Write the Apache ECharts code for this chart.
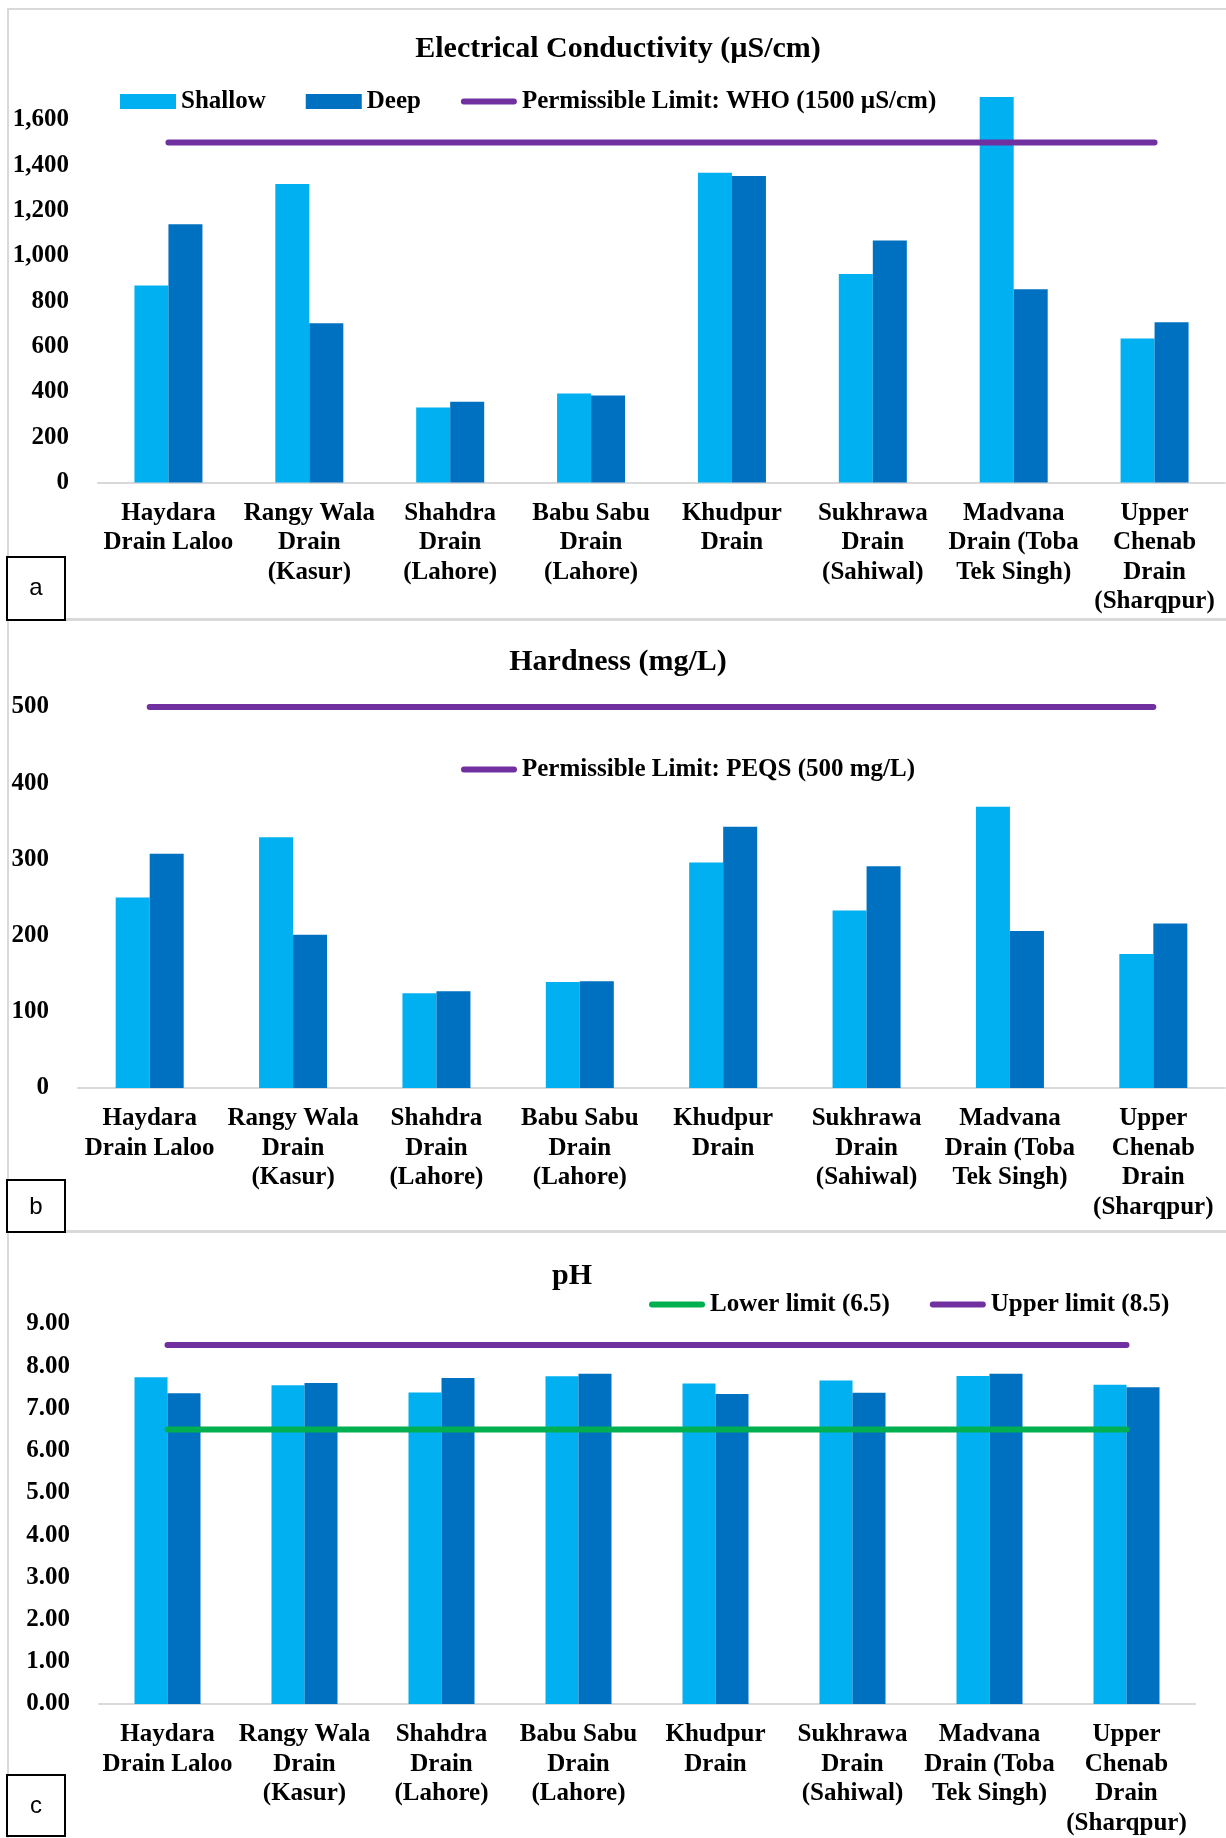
<!DOCTYPE html>
<html>
<head>
<meta charset="utf-8">
<script src="https://cdn.jsdelivr.net/npm/echarts@6/dist/echarts.min.js"></script>
<style>
html,body{margin:0;padding:0;background:#fff;}
#chart{width:1226px;height:1838px;}
</style>
</head>
<body>
<div id="chart"></div>
<script>
var categories = [
  'Haydara\nDrain Laloo',
  'Rangy Wala\nDrain\n(Kasur)',
  'Shahdra\nDrain\n(Lahore)',
  'Babu Sabu\nDrain\n(Lahore)',
  'Khudpur\nDrain',
  'Sukhrawa\nDrain\n(Sahiwal)',
  'Madvana\nDrain (Toba\nTek Singh)',
  'Upper\nChenab\nDrain\n(Sharqpur)'
];
var ecShallow = [869, 1317, 331, 393, 1366, 920, 1701, 635];
var ecDeep    = [1139, 703, 356, 384, 1352, 1068, 853, 707];
var ecWHO     = [1500, 1500, 1500, 1500, 1500, 1500, 1500, 1500];

var hardShallow = [250, 329, 124.5, 139, 296, 233, 369, 176];
var hardDeep    = [307.5, 201, 127, 140, 343, 291, 206, 216];
var hardPEQS    = [500, 500, 500, 500, 500, 500, 500, 500];

var phShallow = [7.74, 7.55, 7.38, 7.76, 7.59, 7.66, 7.77, 7.56];
var phDeep    = [7.36, 7.60, 7.72, 7.82, 7.34, 7.37, 7.82, 7.50];
var phLower   = [6.5, 6.5, 6.5, 6.5, 6.5, 6.5, 6.5, 6.5];
var phUpper   = [8.5, 8.5, 8.5, 8.5, 8.5, 8.5, 8.5, 8.5];

var titles = ['Electrical Conductivity (\u00b5S/cm)', 'Hardness (mg/L)', 'pH'];
var nameWHO = 'Permissible Limit: WHO (1500 \u00b5S/cm)';
var namePEQS = 'Permissible Limit: PEQS (500 mg/L)';
var nameLower = 'Lower limit (6.5)';
var nameUpper = 'Upper limit (8.5)';

var C_SH = '#00B0F0', C_DP = '#0070C0', C_PU = '#7030A0', C_GR = '#00B050';
var FONT = '"Liberation Serif", "Times New Roman", serif';
// legend line icon: rounded bar centred in a 56x15 box
var LINE_ICON = 'path://M0,0 M56,15 M3,4.5 L53,4.5 A3,3 0 0 1 53,10.5 L3,10.5 A3,3 0 0 1 3,4.5 Z';

var chart = echarts.init(document.getElementById('chart'), null, {renderer: 'canvas'});

function xAxis(gi) {
  return {
    type: 'category', gridIndex: gi, data: categories,
    axisLine: {lineStyle: {color: '#D9D9D9', width: 2}},
    axisTick: {show: false},
    axisLabel: {interval: 0, color: '#000', fontFamily: FONT, fontWeight: 'bold', fontSize: 25, lineHeight: 29.5, margin: 16}
  };
}
function yAxis(gi, max, interval, fmt) {
  return {
    type: 'value', gridIndex: gi, min: 0, max: max, interval: interval,
    axisLine: {show: false}, axisTick: {show: false}, splitLine: {show: false},
    axisLabel: {color: '#000', fontFamily: FONT, fontWeight: 'bold', fontSize: 25, margin: 29, formatter: fmt, showMaxLabel: gi !== 0}
  };
}
function bar(name, data, gi, color, w) {
  return {type: 'bar', name: name, xAxisIndex: gi, yAxisIndex: gi, data: data, barWidth: w, barGap: '0%',
    itemStyle: {color: color}, emphasis: {disabled: true}};
}
function line(name, data, gi, color) {
  return {type: 'line', name: name, xAxisIndex: gi, yAxisIndex: gi, data: data, symbol: 'none', showSymbol: false,
    clip: false, lineStyle: {color: color, width: 6, cap: 'round'}, itemStyle: {color: color}, emphasis: {disabled: true}, z: 5};
}
var legText = {color: '#000', fontFamily: FONT, fontWeight: 'bold', fontSize: 25};

var option = {
  animation: false,
  backgroundColor: '#fff',
  grid: [
    {left: 98, width: 1127, top: 74.5, height: 408},
    {left: 78, width: 1147, top: 707, height: 381},
    {left: 99, width: 1096, top: 1324, height: 382}
  ],
  xAxis: [xAxis(0), xAxis(1), xAxis(2)],
  yAxis: [
    yAxis(0, 1800, 200, function (v) { return v.toLocaleString('en-US'); }),
    yAxis(1, 500, 100, function (v) { return String(v); }),
    yAxis(2, 9, 1, function (v) { return v.toFixed(2); })
  ],
  legend: [
    {left: 120, top: 89, itemWidth: 56, itemHeight: 15, itemGap: 40, padding: 0, textStyle: legText, selectedMode: false,
      data: [{name: 'Shallow', icon: 'rect'}, {name: 'Deep', icon: 'rect'}, {name: nameWHO, icon: LINE_ICON}]},
    {left: 461, top: 757, itemWidth: 56, itemHeight: 15, padding: 0, textStyle: legText, selectedMode: false,
      data: [{name: namePEQS, icon: LINE_ICON}]},
    {left: 649, top: 1292, itemWidth: 56, itemHeight: 15, itemGap: 40, padding: 0, textStyle: legText, selectedMode: false,
      data: [{name: nameLower, icon: LINE_ICON}, {name: nameUpper, icon: LINE_ICON}]}
  ],
  series: [
    bar('Shallow', ecShallow, 0, C_SH, 34),
    bar('Deep', ecDeep, 0, C_DP, 34),
    line(nameWHO, ecWHO, 0, C_PU),
    bar('Shallow', hardShallow, 1, C_SH, 34),
    bar('Deep', hardDeep, 1, C_DP, 34),
    line(namePEQS, hardPEQS, 1, C_PU),
    bar('Shallow', phShallow, 2, C_SH, 33),
    bar('Deep', phDeep, 2, C_DP, 33),
    line(nameLower, phLower, 2, C_GR),
    line(nameUpper, phUpper, 2, C_PU)
  ],
  graphic: [
    {type: 'rect', shape: {x: 8, y: 9, width: 1240, height: 610}, style: {fill: null, stroke: '#D9D9D9', lineWidth: 2}, z: -1},
    {type: 'rect', shape: {x: 8, y: 620, width: 1240, height: 611}, style: {fill: null, stroke: '#D9D9D9', lineWidth: 2}, z: -1},
    {type: 'rect', shape: {x: 8, y: 1232, width: 1240, height: 640}, style: {fill: null, stroke: '#D9D9D9', lineWidth: 2}, z: -1},
    {type: 'text', x: 618, y: 49, style: {text: titles[0], font: 'bold 30px ' + FONT, fill: '#000', textAlign: 'center', textVerticalAlign: 'middle'}},
    {type: 'text', x: 618, y: 662, style: {text: titles[1], font: 'bold 30px ' + FONT, fill: '#000', textAlign: 'center', textVerticalAlign: 'middle'}},
    {type: 'text', x: 572, y: 1276, style: {text: titles[2], font: 'bold 30px ' + FONT, fill: '#000', textAlign: 'center', textVerticalAlign: 'middle'}},
    {type: 'rect', shape: {x: 7, y: 557, width: 58, height: 63}, style: {fill: '#fff', stroke: '#000', lineWidth: 2}, z: 10},
    {type: 'text', x: 36, y: 588, style: {text: 'a', font: '24px "Liberation Sans", Arial, sans-serif', fill: '#000', textAlign: 'center', textVerticalAlign: 'middle'}, z: 11},
    {type: 'rect', shape: {x: 7, y: 1180, width: 58, height: 52}, style: {fill: '#fff', stroke: '#000', lineWidth: 2}, z: 10},
    {type: 'text', x: 36, y: 1207, style: {text: 'b', font: '24px "Liberation Sans", Arial, sans-serif', fill: '#000', textAlign: 'center', textVerticalAlign: 'middle'}, z: 11},
    {type: 'rect', shape: {x: 7, y: 1775, width: 58, height: 61}, style: {fill: '#fff', stroke: '#000', lineWidth: 2}, z: 10},
    {type: 'text', x: 36, y: 1806, style: {text: 'c', font: '24px "Liberation Sans", Arial, sans-serif', fill: '#000', textAlign: 'center', textVerticalAlign: 'middle'}, z: 11}
  ]
};
chart.setOption(option);
</script>
</body>
</html>
